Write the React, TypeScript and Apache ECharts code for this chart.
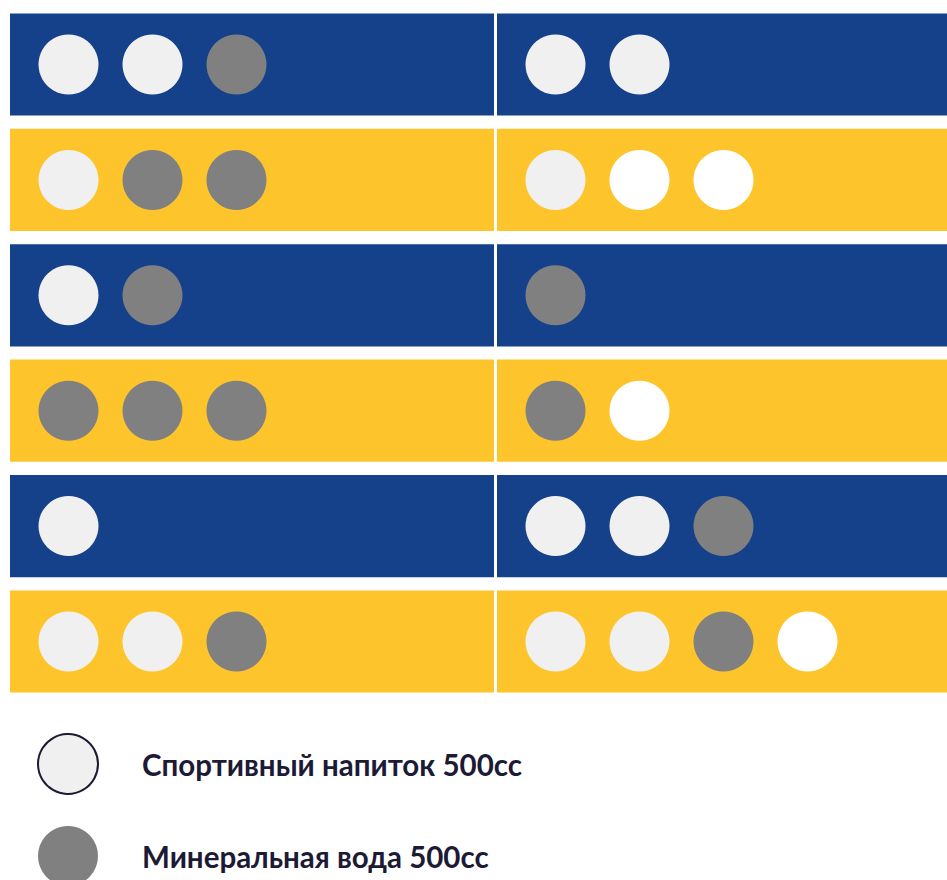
import React, { useEffect, useRef } from "react";
import * as echarts from "echarts";

const rows = ["1", "2", "3", "4", "5", "6"];
const rowColors = ["#15418a", "#fdc52b", "#15418a", "#fdc52b", "#15418a", "#fdc52b"];

const SPORT = "Спортивный напиток 500cc";
const WATER = "Минеральная вода 500cc";
const EMPTY = "Пусто";

const leftColumn = [
  [SPORT, SPORT, WATER],
  [SPORT, WATER, WATER],
  [SPORT, WATER],
  [WATER, WATER, WATER],
  [SPORT],
  [SPORT, SPORT, WATER],
];
const rightColumn = [
  [SPORT, SPORT],
  [SPORT, EMPTY, EMPTY],
  [WATER],
  [WATER, EMPTY],
  [SPORT, SPORT, WATER],
  [SPORT, SPORT, WATER, EMPTY],
];

const types = [SPORT, WATER, EMPTY];
const typeColors: Record<string, string> = {
  [SPORT]: "#f0f0f0",
  [WATER]: "#808080",
  [EMPTY]: "#ffffff",
};

export default function App() {
  const ref = useRef<HTMLDivElement>(null);
  useEffect(() => {
    if (!ref.current) return;
    const chart = echarts.init(ref.current, undefined, { renderer: "svg" });
    const columns = [leftColumn, rightColumn];
    const grids = [
      { left: 10, top: 6.8, width: 484, height: 692.4 },
      { left: 497, top: 6.8, width: 450, height: 692.4 },
    ];
    const slotPx = 84;
    const firstOffset = 58.5;
    const xAxis: any[] = [];
    const yAxis: any[] = [];
    const series: any[] = [];
    columns.forEach((col, c) => {
      xAxis.push({ gridIndex: c, type: "value", min: 0, max: 1, show: false, position: "bottom" });
      xAxis.push({
        gridIndex: c,
        type: "value",
        min: -firstOffset / slotPx,
        max: (grids[c].width - firstOffset) / slotPx,
        show: false,
        position: "top",
      });
      yAxis.push({ gridIndex: c, type: "category", data: rows, inverse: true, show: false });
      series.push({
        type: "bar",
        name: "panel" + c,
        xAxisIndex: 2 * c,
        yAxisIndex: c,
        silent: true,
        barCategoryGap: "11.4%",
        data: rows.map((r, i) => ({ value: 1, itemStyle: { color: rowColors[i] } })),
        z: 1,
      });
      types.forEach((t) => {
        const data: number[][] = [];
        col.forEach((items, row) => {
          items.forEach((it, slot) => {
            if (it === t) data.push([slot, row]);
          });
        });
        series.push({
          type: "scatter",
          name: t,
          xAxisIndex: 2 * c + 1,
          yAxisIndex: c,
          symbol: "circle",
          symbolSize: 60,
          itemStyle: { color: typeColors[t], opacity: 1 },
          data,
          z: 3,
        });
      });
    });
    chart.setOption({
      animation: false,
      grid: grids,
      xAxis,
      yAxis,
      series,
      legend: {
        orient: "vertical",
        left: 37,
        top: 733,
        height: 200,
        padding: 0,
        itemWidth: 60,
        itemHeight: 60,
        itemGap: 31,
        icon: "circle",
        data: [
          { name: SPORT, itemStyle: { color: "#f0f0f0", borderColor: "#1c1a35", borderWidth: 2 } },
          { name: WATER, itemStyle: { color: "#808080" } },
        ],
        textStyle: {
          fontFamily: "Lato",
          fontWeight: "bold",
          fontSize: 29.5,
          color: "#1c1a35",
          padding: [0, 0, 0, 39],
        },
      },
    });
    return () => chart.dispose();
  }, []);
  return (
    <div
      ref={ref}
      style={{ position: "fixed", left: 0, top: 0, width: 947, height: 880, background: "#ffffff" }}
    />
  );
}
